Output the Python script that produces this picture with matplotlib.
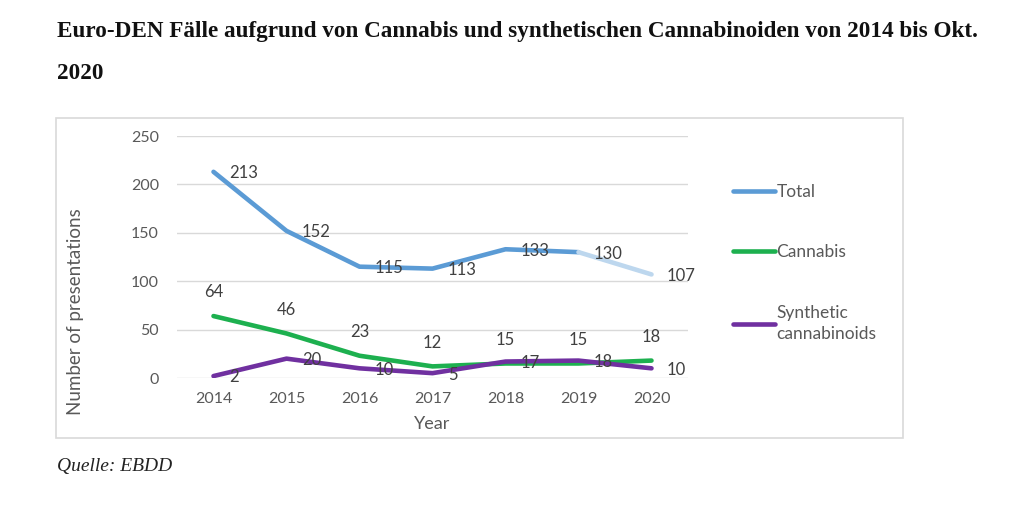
import matplotlib
matplotlib.use("Agg")
import matplotlib.pyplot as plt
from matplotlib.patches import Rectangle

years = ["2014", "2015", "2016", "2017", "2018", "2019", "2020"]
total = [213, 152, 115, 113, 133, 130, 107]
cannabis = [64, 46, 23, 12, 15, 15, 18]
synthetic = [2, 20, 10, 5, 17, 18, 10]

c_total = "#5b9bd5"
c_total_light = "#bdd7ee"
c_cannabis = "#1db04f"
c_synth = "#7030a0"
txt = "#595959"

plt.rcParams["font.family"] = ["Lato", "DejaVu Sans"]

fig = plt.figure(figsize=(10.24, 5.07), dpi=100)
W, H = 1024, 507

# chart frame
fig.add_artist(Rectangle((56 / W, 1 - 438 / H), (903 - 56) / W, (438 - 118) / H,
                         transform=fig.transFigure, fill=False, edgecolor="#d9d9d9", lw=1.2))

ax = fig.add_axes([177 / W, 1 - 378 / H, (688 - 177) / W, (378 - 136) / H])
x = list(range(len(years)))

ax.plot(x[:-1], total[:-1], color=c_total, lw=3.3, solid_capstyle="round", label="Total", zorder=3)
ax.plot(x[-2:], total[-2:], color=c_total_light, lw=3.3, solid_capstyle="round", zorder=3)
ax.plot(x, cannabis, color=c_cannabis, lw=3.3, solid_capstyle="round", label="Cannabis", zorder=3)
ax.plot(x, synthetic, color=c_synth, lw=3.3, solid_capstyle="round",
        label="Synthetic\ncannabinoids", zorder=4)

# data labels
lab = dict(fontsize=12, color="#404040", zorder=5, textcoords="offset points")
for i, v in enumerate(total):
    ax.annotate(str(v), (i, v), xytext=(11, -1), ha="left", va="center", **lab)
for i, v in enumerate(cannabis):
    ax.annotate(str(v), (i, v), xytext=(0, 17), ha="center", va="center", **lab)
for i, v in enumerate(synthetic):
    ax.annotate(str(v), (i, v), xytext=(11, -1), ha="left", va="center", **lab)

ax.set_xlim(-0.5, 6.5)
ax.set_ylim(0, 250)
ax.set_yticks([0, 50, 100, 150, 200, 250])
ax.set_xticks(x)
ax.set_xticklabels(years)
ax.grid(axis="y", color="#d9d9d9", lw=1)
ax.set_axisbelow(True)
for s in ax.spines.values():
    s.set_visible(False)
ax.tick_params(length=0, labelsize=11.5, colors=txt, pad=10)
ax.tick_params(axis="y", pad=13)

fig.text(432 / W, 1 - 424 / H, "Year", ha="center", va="center", fontsize=13, color=txt)
fig.text(75 / W, 1 - 312 / H, "Number of presentations", rotation=90,
         ha="center", va="center", fontsize=13.5, color=txt)

leg = ax.legend(loc="upper left", bbox_to_anchor=(733 / W, 1 - 184 / H), bbox_transform=fig.transFigure,
                frameon=False, fontsize=12.5, handlelength=2.4, handletextpad=0.1,
                borderpad=0, borderaxespad=0, labelspacing=2.55, labelcolor=txt)
for t in leg.get_texts():
    t.set_linespacing(1.45)

fig.text(57 / W, 1 - 32 / H, "Euro-DEN Fälle aufgrund von Cannabis und synthetischen Cannabinoiden von 2014 bis Okt.",
         ha="left", va="center", fontsize=16.7, fontweight="bold", family="Liberation Serif", color="#111111")
fig.text(57 / W, 1 - 73 / H, "2020", ha="left", va="center", fontsize=16.7,
         fontweight="bold", family="Liberation Serif", color="#111111")
fig.text(57 / W, 1 - 467 / H, "Quelle: EBDD", ha="left", va="center", fontsize=14,
         style="italic", family="Liberation Serif", color="#222222")

fig.savefig("out.png", dpi=100, facecolor="white")
